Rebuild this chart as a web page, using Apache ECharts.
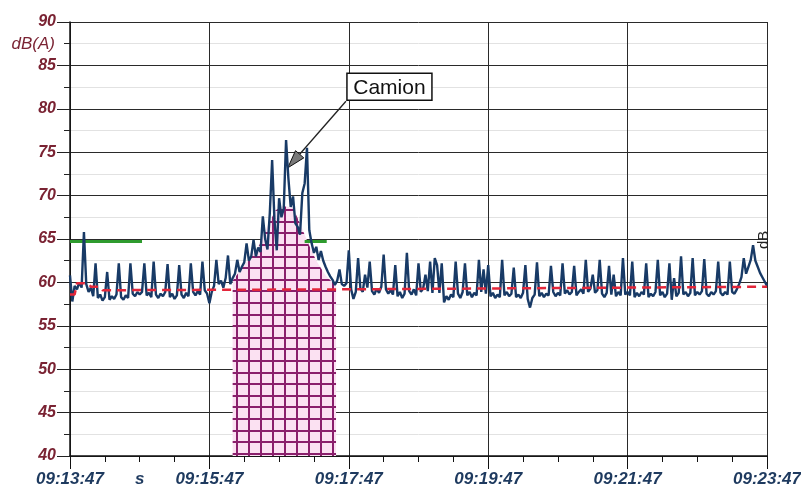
<!DOCTYPE html>
<html>
<head>
<meta charset="utf-8">
<script src="https://cdn.jsdelivr.net/npm/echarts@6/dist/echarts.min.js"></script>
<style>
  html, body { margin: 0; padding: 0; background: #fff; }
  #chart { width: 801px; height: 490px; }
</style>
</head>
<body>
<div id="chart"></div>
<script>
// Sound level record, 10 minutes from 09:13:47, one reading every 2 s (dB(A))
const stepSeconds = 2;
const timeTicks = ['09:13:47', '09:15:47', '09:17:47', '09:19:47', '09:21:47', '09:23:47'];
const levels = [
  60.8, 57.8, 59.6, 59.2, 60.0, 59.4, 65.8, 59.8, 58.9, 59.4,
  58.4, 62.2, 58.2, 58.6, 57.9, 58.3, 61.2, 58.0, 58.4, 58.1,
  58.6, 62.2, 58.3, 58.0, 58.5, 58.2, 62.2, 58.7, 58.4, 58.9,
  58.6, 58.9, 62.2, 58.5, 58.8, 58.3, 62.4, 58.6, 58.2, 58.7,
  58.4, 58.9, 62.1, 58.3, 58.7, 58.1, 58.5, 62.0, 58.6, 58.2,
  58.8, 58.4, 62.2, 58.9, 58.5, 59.0, 58.6, 62.4, 59.1, 58.7,
  57.6, 58.9, 59.6, 62.6, 59.8, 60.2, 59.4, 60.5, 63.1, 59.8,
  60.5, 61.0, 62.6, 61.2, 61.8, 62.3, 64.5, 62.5, 63.0, 64.9,
  63.0, 64.0, 63.5, 67.6, 65.0, 63.8, 68.0, 74.1, 67.2, 63.7,
  69.7, 67.5, 68.5, 76.4, 72.0, 68.7, 69.9, 66.8, 66.4, 65.5,
  70.3, 71.4, 75.5, 66.0, 64.5, 63.4, 64.1, 62.6, 63.6, 62.5,
  61.8, 61.2, 60.7, 60.3, 59.7, 60.2, 61.5, 59.8, 59.6, 59.9,
  63.7, 59.2, 58.1, 58.9, 62.8, 59.3, 58.9, 60.9, 59.4, 62.4,
  59.0, 58.6, 59.3, 58.8, 59.5, 63.2, 59.2, 58.7, 59.1, 58.6,
  62.0, 58.4, 58.9, 58.2, 58.7, 63.4, 59.0, 58.6, 59.2, 58.5,
  62.2, 58.9, 59.3, 60.9, 59.0, 62.4, 58.8, 62.8, 62.0, 58.8,
  62.2, 57.7, 58.4, 58.0, 58.6, 58.3, 62.4, 58.7, 58.2, 58.9,
  62.2, 58.5, 58.9, 58.3, 58.8, 58.5, 62.6, 58.9, 61.5, 58.7,
  62.0, 58.4, 58.8, 58.2, 58.6, 58.3, 62.6, 58.5, 58.9, 58.4,
  58.7, 61.7, 58.3, 58.6, 58.2, 58.8, 62.0, 58.1, 57.1, 58.2,
  58.6, 62.3, 58.4, 58.8, 58.3, 58.7, 58.5, 61.9, 58.9, 58.4,
  58.8, 58.5, 62.2, 58.7, 59.1, 58.6, 58.9, 61.9, 58.5, 58.9,
  59.2, 58.7, 62.6, 58.9, 59.3, 60.9, 58.8, 59.1, 62.6, 58.7,
  58.3, 58.8, 61.9, 58.6, 60.9, 58.4, 58.9, 58.5, 62.8, 58.6,
  58.9, 58.5, 62.4, 58.3, 58.8, 58.4, 58.9, 58.6, 62.2, 58.3,
  58.7, 58.4, 58.9, 62.6, 58.5, 58.9, 58.3, 58.7, 62.2, 58.0,
  60.5, 58.4, 58.8, 63.0, 58.6, 58.9, 58.4, 58.8, 62.8, 58.5,
  58.9, 58.6, 59.0, 62.7, 58.7, 58.4, 58.9, 58.6, 59.0, 62.4,
  58.8, 58.5, 58.9, 58.6, 62.4, 58.9, 58.7, 59.2, 59.8, 60.6,
  62.8, 61.0, 61.8, 62.6, 64.3, 62.5, 61.8, 61.1, 60.6, 60.1,
  59.6
];
// Background level (red dashed) as [seconds, dB]
const backgroundLevel = [[0, 58.6], [4, 58.6], [6, 59.9], [16, 59.9], [18, 59.5], [26, 59.5], [28, 59.1], [240, 59.2], [600, 59.5]];
// Period equivalent levels (green) as [seconds, dB]
const periodLevelA = [[0, 64.7], [62, 64.7]];
const periodLevelB = [[202, 64.7], [221, 64.7]];
// Coded "Camion" event envelope as [seconds, dB]
const eventEnvelope = [
  [140, 60.2], [147, 61.5], [155, 62.8], [163, 64.3], [170, 66.5], [177, 68.3],
  [183, 68.8], [192, 68.6], [198, 66.8], [205, 64.5], [212, 62.5], [220, 60.8], [229, 59.6]
];
const eventLabel = 'Camion';
const eventBoxCorner = [238.4, 84.1];   // top-left of the callout box
const eventTarget = [187.5, 73.2];      // where the arrow points

function hatchPattern() {
  const c = document.createElement('canvas');
  c.width = 12; c.height = 58;
  const g = c.getContext('2d');
  g.fillStyle = '#fbe1f2';
  g.fillRect(0, 0, 12, 58);
  g.fillStyle = '#8a1f6c';
  g.fillRect(0, 0, 2, 58);
  [0, 12, 23, 35, 46].forEach(function (y) { g.fillRect(0, y, 12, 2); });
  return c;
}

const chart = echarts.init(document.getElementById('chart'), null, { renderer: 'canvas' });

const yLabelColor = '#7a2333';
const xLabelColor = '#1e3a5f';

chart.setOption({
  animation: false,
  backgroundColor: '#fff',
  grid: { left: 70, right: 34, top: 22, bottom: 34, containLabel: false, outerBoundsMode: 'none' },
  xAxis: {
    type: 'value', min: 0, max: 600, interval: 120,
    axisLine: { show: true, onZero: false, lineStyle: { color: '#111', width: 1.5 } },
    axisTick: { show: true, length: 13, lineStyle: { color: '#111', width: 1 } },
    minorTick: { show: true, splitNumber: 4, length: 6, lineStyle: { color: '#111', width: 1 } },
    splitLine: { show: true, lineStyle: { color: '#2a2a2a', width: 1 } },
    minorSplitLine: { show: false },
    axisLabel: {
      margin: 15, color: xLabelColor, fontFamily: 'Arial, Liberation Sans', fontStyle: 'italic',
      fontWeight: 'bold', fontSize: 17, showMinLabel: true, showMaxLabel: true, hideOverlap: false,
      formatter: function (v) { return timeTicks[Math.round(v / 120)] || ''; }
    }
  },
  yAxis: {
    type: 'value', min: 40, max: 90, interval: 5,
    axisLine: { show: true, lineStyle: { color: '#111', width: 1.5 } },
    axisTick: { show: true, length: 13, lineStyle: { color: '#222', width: 1 } },
    minorTick: { show: true, splitNumber: 2, length: 6, lineStyle: { color: '#222', width: 1 } },
    splitLine: { show: true, lineStyle: { color: '#2a2a2a', width: 1 } },
    minorSplitLine: { show: true, lineStyle: { color: '#e2e2e2', width: 1 } },
    axisLabel: {
      margin: 14, color: yLabelColor, fontFamily: 'Arial, Liberation Sans', fontStyle: 'italic',
      fontWeight: 'bold', fontSize: 16
    }
  },
  series: [
    {
      name: 'event', type: 'line', z: 1, data: eventEnvelope,
      symbol: 'none', lineStyle: { width: 0, opacity: 0 },
      areaStyle: { origin: 'start', opacity: 1, color: { image: hatchPattern(), repeat: 'repeat', x: 8, y: 12 } },
      silent: true
    },
    {
      name: 'periodA', type: 'line', z: 2, data: periodLevelA, symbol: 'none',
      lineStyle: { color: '#2e9b2e', width: 3 }
    },
    {
      name: 'periodB', type: 'line', z: 2, data: periodLevelB, symbol: 'none',
      lineStyle: { color: '#2e9b2e', width: 3 }
    },
    {
      name: 'level', type: 'line', z: 3, symbol: 'none',
      data: levels.map(function (v, i) { return [i * stepSeconds, v]; }),
      lineStyle: { color: '#183a66', width: 2.4 }
    },
    {
      name: 'background', type: 'line', z: 4, data: backgroundLevel, symbol: 'none',
      lineStyle: { color: '#e3263a', width: 2.5, type: [9, 6] }
    }
  ]
});

function px(pt) { return chart.convertToPixel({ gridIndex: 0 }, pt); }

const unitPos = px([0, 87.5]);
const sPos = px([60, 40]);
const dbPos = px([597, 64.9]);
const box = px(eventBoxCorner);
const tip = px(eventTarget);
const boxW = 85, boxH = 27;
const start = [box[0] - 1, box[1] + boxH + 1];
const dx = tip[0] - start[0], dy = tip[1] - start[1];
const len = Math.sqrt(dx * dx + dy * dy);
const ux = dx / len, uy = dy / len;
const headLen = 18, headHalf = 5.5;
const base = [tip[0] - ux * headLen, tip[1] - uy * headLen];
const left = [base[0] - uy * headHalf, base[1] + ux * headHalf];
const right = [base[0] + uy * headHalf, base[1] - ux * headHalf];

chart.setOption({
  graphic: [
    { type: 'text', x: unitPos[0] - 15, y: unitPos[1] + 1,
      style: { text: 'dB(A)', font: 'italic 17px Arial', fill: yLabelColor, align: 'right', verticalAlign: 'middle' } },
    { type: 'text', x: sPos[0], y: sPos[1] + 15,
      style: { text: 's', font: 'italic bold 17px Arial', fill: xLabelColor, align: 'center', verticalAlign: 'top' } },
    { type: 'text', x: dbPos[0], y: dbPos[1], rotation: Math.PI / 2,
      style: { text: 'dB', font: '15px Arial', fill: '#222', align: 'center', verticalAlign: 'middle' } },
    { type: 'line', shape: { x1: start[0], y1: start[1], x2: base[0], y2: base[1] },
      style: { stroke: '#222', lineWidth: 1.3 } },
    { type: 'polygon', shape: { points: [tip, left, right] },
      style: { fill: '#7a7a7a', stroke: '#111', lineWidth: 1 } },
    { type: 'rect', shape: { x: box[0], y: box[1], width: boxW, height: boxH },
      style: { fill: '#fff', stroke: '#111', lineWidth: 1.5 } },
    { type: 'text', x: box[0] + boxW / 2, y: box[1] + boxH / 2 + 1,
      style: { text: eventLabel, font: '21px Arial', fill: '#111', align: 'center', verticalAlign: 'middle' } }
  ]
});
</script>
</body>
</html>
